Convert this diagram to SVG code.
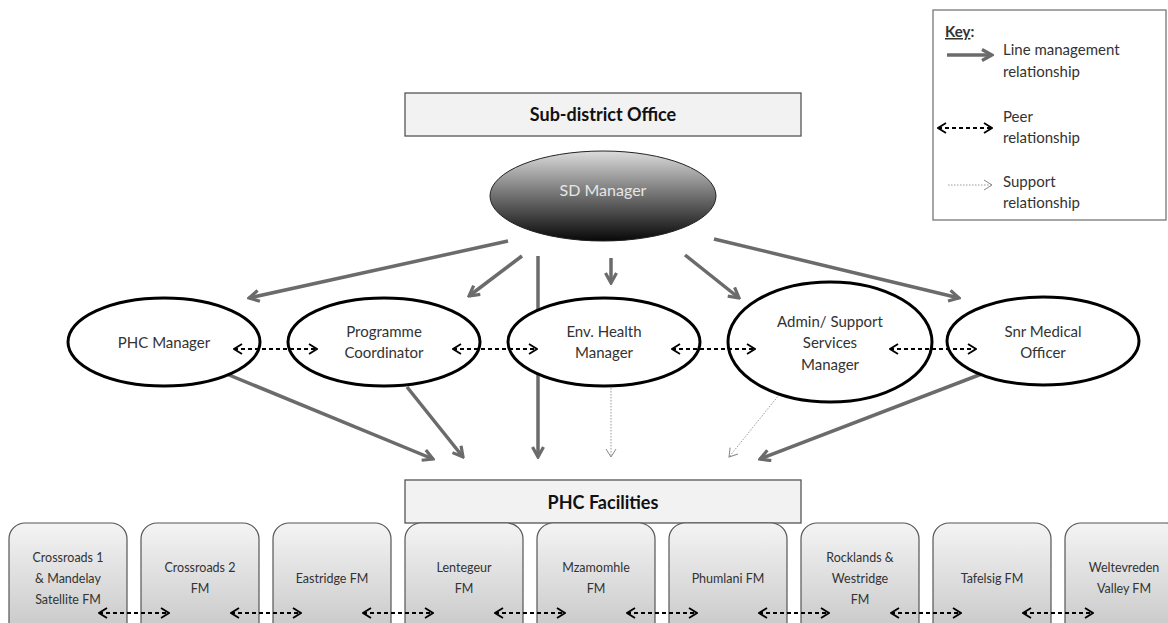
<svg xmlns="http://www.w3.org/2000/svg" width="1168" height="623" viewBox="0 0 1168 623">
<style>
text{font-family:Lato,"Liberation Sans",sans-serif;fill:#333;text-anchor:middle}
.title{font-weight:bold;font-size:18px;fill:#111}
.band{fill:#f2f2f2;stroke:#555;stroke-width:1.3}
.oval{fill:#fff;stroke:#000;stroke-width:3}
.lbl{font-size:15px}
.fm{fill:url(#fmg);stroke:#555;stroke-width:1.2}
.fmt{font-size:12.5px}
.line{stroke:#6b6b6b;stroke-width:3.5;fill:none;marker-end:url(#hl)}
.peer{stroke:#000;stroke-width:1.8;stroke-dasharray:4 3;fill:none;marker-start:url(#hp);marker-end:url(#hp)}
.sup{stroke:#999;stroke-width:1;stroke-dasharray:1.5 1.5;fill:none;marker-end:url(#hs)}
.key{font-size:15px;text-anchor:start}
</style>
<defs>
<linearGradient id="sdg" x1="0" y1="0" x2="0" y2="1">
<stop offset="0" stop-color="#dcdcdc"/>
<stop offset="0.45" stop-color="#7a7a7a"/>
<stop offset="1" stop-color="#080808"/>
</linearGradient>
<linearGradient id="fmg" x1="0" y1="0" x2="0" y2="1">
<stop offset="0" stop-color="#f4f4f4"/>
<stop offset="1" stop-color="#c4c4c4"/>
</linearGradient>
<marker id="hl" viewBox="0 0 14 14" refX="12" refY="7" markerWidth="14" markerHeight="14" markerUnits="userSpaceOnUse" orient="auto">
<path d="M2,1.5 L12,7 L2,12.5" fill="none" stroke="#6b6b6b" stroke-width="3.2"/>
</marker>
<marker id="hp" viewBox="0 0 10 12" refX="9" refY="6" markerWidth="10" markerHeight="12" markerUnits="userSpaceOnUse" orient="auto-start-reverse">
<path d="M1,1 L9,6 L1,11" fill="none" stroke="#000" stroke-width="1.8"/>
</marker>
<marker id="hs" viewBox="0 0 10 12" refX="9" refY="6" markerWidth="10" markerHeight="12" markerUnits="userSpaceOnUse" orient="auto">
<path d="M1,1 L9,6 L1,11" fill="none" stroke="#888" stroke-width="1"/>
</marker>
</defs>
<rect width="1168" height="623" fill="#fff"/>

<g id="key">
<rect x="933" y="10" width="233" height="210" fill="#fff" stroke="#777" stroke-width="1.3"/>
<text class="key" x="945" y="37" font-weight="bold" fill="#111"><tspan text-decoration="underline">Key</tspan>:</text>
<line x1="947" y1="55" x2="992" y2="55" class="line"/>
<text class="key" x="1003" y="55">Line management</text>
<text class="key" x="1003" y="77">relationship</text>
<line x1="938" y1="128" x2="992" y2="128" class="peer"/>
<text class="key" x="1003" y="122">Peer</text>
<text class="key" x="1003" y="143">relationship</text>
<line x1="948" y1="185" x2="992" y2="185" class="sup"/>
<text class="key" x="1003" y="187">Support</text>
<text class="key" x="1003" y="208">relationship</text>
</g>

<g id="sub-district-office">
<rect x="405" y="93" width="396" height="43" class="band"/>
<text class="title" x="603" y="121">Sub-district Office</text>
</g>

<g id="sd-manager">
<ellipse cx="603" cy="196" rx="113" ry="45" fill="url(#sdg)" stroke="#222" stroke-width="1"/>
<text x="603" y="196" font-size="16" fill="#e6e6e6" style="fill:#e6e6e6">SD Manager</text>
</g>

<g id="connectors">
<line x1="508" y1="241" x2="249" y2="298" class="line"/>
<line x1="522" y1="256" x2="469" y2="296" class="line"/>
<line x1="538" y1="256" x2="538" y2="457" class="line"/>
<line x1="611" y1="258" x2="611" y2="283" class="line"/>
<line x1="685" y1="255" x2="739" y2="298" class="line"/>
<line x1="714" y1="239" x2="959" y2="298" class="line"/>
<line x1="217" y1="370" x2="433" y2="459" class="line"/>
<line x1="407" y1="387" x2="463" y2="457" class="line"/>
<line x1="992" y1="370" x2="760" y2="459" class="line"/>
<line x1="611" y1="388" x2="611" y2="457" class="sup"/>
<line x1="787" y1="385" x2="729" y2="457" class="sup"/>
</g>

<g id="phc-manager"><ellipse cx="164" cy="342" rx="96" ry="44" class="oval"/>
<text class="lbl" x="164" y="348">PHC Manager</text></g>
<g id="programme-coordinator"><ellipse cx="384" cy="342" rx="96" ry="44" class="oval"/>
<text class="lbl" x="384" y="337">Programme</text><text class="lbl" x="384" y="358">Coordinator</text></g>
<g id="env-health-manager"><ellipse cx="604" cy="342" rx="96" ry="44" class="oval"/>
<text class="lbl" x="604" y="337">Env. Health</text><text class="lbl" x="604" y="358">Manager</text></g>
<g id="admin-support"><ellipse cx="830" cy="342" rx="102" ry="60" class="oval"/>
<text class="lbl" x="830" y="327">Admin/ Support</text><text class="lbl" x="830" y="348">Services</text><text class="lbl" x="830" y="370">Manager</text></g>
<g id="snr-medical-officer"><ellipse cx="1043" cy="341" rx="96" ry="44" class="oval"/>
<text class="lbl" x="1043" y="337">Snr Medical</text><text class="lbl" x="1043" y="358">Officer</text></g>

<g id="peer-connectors">
<line x1="234" y1="349" x2="317" y2="349" class="peer"/>
<line x1="453" y1="349" x2="537" y2="349" class="peer"/>
<line x1="672" y1="349" x2="755" y2="349" class="peer"/>
<line x1="890" y1="349" x2="976" y2="349" class="peer"/>
</g>

<g id="phc-facilities">
<rect x="405" y="480" width="396" height="43" class="band"/>
<text class="title" x="603" y="509">PHC Facilities</text>
</g>

<g id="fm1"><rect x="9" y="523" width="118" height="120" rx="16" class="fm"/>
<text class="fmt" x="68" y="562">Crossroads 1</text><text class="fmt" x="68" y="583">&amp; Mandelay</text><text class="fmt" x="68" y="604">Satellite FM</text></g>
<g id="fm2"><rect x="141" y="523" width="118" height="120" rx="16" class="fm"/>
<text class="fmt" x="200" y="572">Crossroads 2</text><text class="fmt" x="200" y="593">FM</text></g>
<g id="fm3"><rect x="273" y="523" width="118" height="120" rx="16" class="fm"/>
<text class="fmt" x="332" y="583">Eastridge FM</text></g>
<g id="fm4"><rect x="405" y="523" width="118" height="120" rx="16" class="fm"/>
<text class="fmt" x="464" y="572">Lentegeur</text><text class="fmt" x="464" y="593">FM</text></g>
<g id="fm5"><rect x="537" y="523" width="118" height="120" rx="16" class="fm"/>
<text class="fmt" x="596" y="572">Mzamomhle</text><text class="fmt" x="596" y="593">FM</text></g>
<g id="fm6"><rect x="669" y="523" width="118" height="120" rx="16" class="fm"/>
<text class="fmt" x="728" y="583">Phumlani FM</text></g>
<g id="fm7"><rect x="801" y="523" width="118" height="120" rx="16" class="fm"/>
<text class="fmt" x="860" y="562">Rocklands &amp;</text><text class="fmt" x="860" y="583">Westridge</text><text class="fmt" x="860" y="604">FM</text></g>
<g id="fm8"><rect x="933" y="523" width="118" height="120" rx="16" class="fm"/>
<text class="fmt" x="992" y="583">Tafelsig FM</text></g>
<g id="fm9"><rect x="1065" y="523" width="118" height="120" rx="16" class="fm"/>
<text class="fmt" x="1124" y="572">Weltevreden</text><text class="fmt" x="1124" y="593">Valley FM</text></g>

<g id="fm-peer-connectors">
<line x1="99" y1="613" x2="169" y2="613" class="peer"/>
<line x1="231" y1="613" x2="301" y2="613" class="peer"/>
<line x1="363" y1="613" x2="433" y2="613" class="peer"/>
<line x1="495" y1="613" x2="565" y2="613" class="peer"/>
<line x1="627" y1="613" x2="697" y2="613" class="peer"/>
<line x1="759" y1="613" x2="829" y2="613" class="peer"/>
<line x1="891" y1="613" x2="961" y2="613" class="peer"/>
<line x1="1023" y1="613" x2="1093" y2="613" class="peer"/>
</g>
</svg>
